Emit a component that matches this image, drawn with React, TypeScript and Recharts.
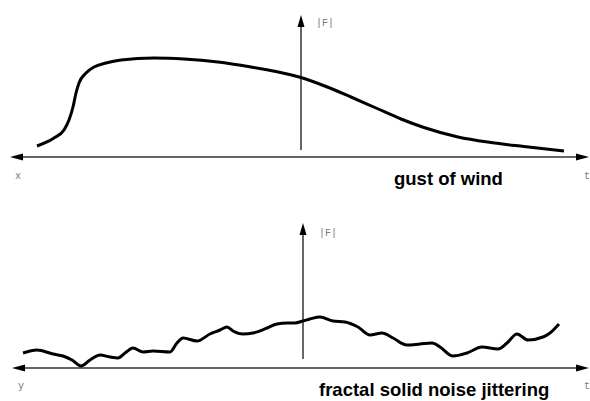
import { LineChart, Line, XAxis, YAxis, ReferenceLine } from 'recharts';

// gust of wind: time t (vertical axis at t = 0) against force |F|
const gustT = [-26.4, -24.7, -23.7, -23.2, -22.8, -22.5, -22.2, -21.5, -20.7, -19.5, -18, -14.7, -11.7, -8.3, -5, -2.5, 0, 2.5, 5, 7.5, 10, 12.3, 15.7, 19, 22.3, 26.3];
const gustF = [1.1, 1.9, 2.7, 3.7, 5.0, 6.4, 7.4, 8.4, 9.0, 9.4, 9.7, 9.9, 9.8, 9.5, 9.0, 8.55, 7.95, 7.05, 6.0, 4.9, 3.8, 2.95, 2.0, 1.45, 1.05, 0.6];

// fractal solid noise jittering
const noiseT = [-28.0, -26.6, -25.0, -24.0, -23.1, -22.2, -21.3, -20.3, -19.3, -18.5, -17.8, -17.0, -16.0, -15.0, -13.3, -12.6, -12.0, -10.6, -9.3, -8.3, -7.6, -7.0, -6.0, -5.0, -3.6, -2.6, -1.6, -0.8, 0, 0.7, 1.7, 3.0, 4.2, 5.5, 6.7, 7.9, 9.0, 10.4, 11.7, 12.9, 13.7, 15.0, 16.4, 17.9, 19.5, 20.4, 21.4, 22.5, 24.0, 24.7, 25.6];
const noiseF = [1.5, 1.8, 1.4, 1.2, 0.8, 0.2, 0.8, 1.3, 1.1, 1.0, 1.5, 2.0, 1.6, 1.7, 1.6, 2.5, 3.0, 2.7, 3.4, 3.8, 4.1, 3.7, 3.4, 3.5, 4.0, 4.4, 4.5, 4.5, 4.7, 4.9, 5.1, 4.7, 4.6, 4.1, 3.3, 3.5, 3.0, 2.3, 2.4, 2.5, 2.1, 1.2, 1.5, 2.1, 1.9, 2.5, 3.4, 2.8, 3.1, 3.5, 4.4];

const titles = ['gust of wind', 'fractal solid noise jittering'];
const leftLabels = ['x', 'y'];
const rightLabel = 't';
const forceLabel = '|F|';

const gustData = gustT.map((t, i) => ({ t, f: gustF[i] }));
const noiseData = noiseT.map((t, i) => ({ t, f: noiseF[i] }));

const AXIS_COLOR = '#333';
const LABEL_FONT = { fontFamily: '"Liberation Mono", "DejaVu Sans Mono", monospace', fontSize: 10, fill: '#777' };

function HorizontalAxis(props: any, left: string, lx: number, ly: number) {
  const x1 = Math.min(props.x1, props.x2);
  const x2 = Math.max(props.x1, props.x2);
  const y = props.y1;
  return (
    <g>
      <line x1={x1 + 6} y1={y} x2={x2 - 6} y2={y} stroke={AXIS_COLOR} strokeWidth={1.5} />
      <polygon points={`${x1},${y} ${x1 + 13},${y - 3.5} ${x1 + 13},${y + 3.5}`} fill="#000" />
      <polygon points={`${x2},${y} ${x2 - 13},${y - 3.5} ${x2 - 13},${y + 3.5}`} fill="#000" />
      <text x={x1 + lx} y={y + ly} {...LABEL_FONT}>{left}</text>
      <text x={x2 - 5} y={y + ly} {...LABEL_FONT}>{rightLabel}</text>
    </g>
  );
}

function VerticalAxis(props: any, fx: number, fy: number) {
  const x = props.x1;
  const top = Math.min(props.y1, props.y2);
  const bottom = Math.max(props.y1, props.y2);
  return (
    <g>
      <line x1={x} y1={top + 6} x2={x} y2={bottom} stroke={AXIS_COLOR} strokeWidth={1.5} />
      <polygon points={`${x},${top} ${x - 3.5},${top + 12} ${x + 3.5},${top + 12}`} fill="#000" />
      <text x={x + fx} y={top + fy} {...LABEL_FONT}>{forceLabel}</text>
    </g>
  );
}

const titleStyle: any = {
  position: 'absolute',
  fontFamily: '"Liberation Sans", Arial, sans-serif',
  fontWeight: 'bold',
  fontSize: 18.5,
  lineHeight: '18px',
  color: '#000',
  whiteSpace: 'nowrap',
};

export default function App() {
  return (
    <div style={{ position: 'absolute', left: 0, top: 0, width: 590, height: 401, background: '#fff', overflow: 'hidden' }}>
      <div style={{ position: 'absolute', left: 0, top: 0 }}>
        <LineChart width={590} height={200} data={gustData} margin={{ top: 0, right: 0, bottom: 43, left: 0 }}>
          <XAxis type="number" dataKey="t" domain={[-30.1, 28.9]} allowDataOverflow hide />
          <YAxis type="number" domain={[0, 15.7]} allowDataOverflow hide />
          <ReferenceLine
            segment={[{ x: -29.1, y: 0 }, { x: 28.8, y: 0 }]}
            shape={(p: any) => HorizontalAxis(p, leftLabels[0], 5, 22)}
          />
          <ReferenceLine
            segment={[{ x: 0, y: 0.7 }, { x: 0, y: 14.2 }]}
            shape={(p: any) => VerticalAxis(p, 15, 11)}
          />
          <Line type="monotone" dataKey="f" stroke="#000" strokeWidth={3} strokeLinecap="butt" dot={false} activeDot={false} isAnimationActive={false} />
        </LineChart>
      </div>
      <div style={{ position: 'absolute', left: 0, top: 200 }}>
        <LineChart width={590} height={201} data={noiseData} margin={{ top: 0, right: 0, bottom: 33, left: 0 }}>
          <XAxis type="number" dataKey="t" domain={[-30.3, 28.7]} allowDataOverflow hide />
          <YAxis type="number" domain={[0, 16.8]} allowDataOverflow hide />
          <ReferenceLine
            segment={[{ x: -29.1, y: 0 }, { x: 28.6, y: 0 }]}
            shape={(p: any) => HorizontalAxis(p, leftLabels[1], 6, 21)}
          />
          <ReferenceLine
            segment={[{ x: 0, y: 0.9 }, { x: 0, y: 14.5 }]}
            shape={(p: any) => VerticalAxis(p, 16, 13)}
          />
          <Line type="monotone" dataKey="f" stroke="#000" strokeWidth={3} dot={false} activeDot={false} isAnimationActive={false} />
        </LineChart>
      </div>
      <div style={{ ...titleStyle, left: 394, top: 170 }}>{titles[0]}</div>
      <div style={{ ...titleStyle, left: 319, top: 381 }}>{titles[1]}</div>
    </div>
  );
}
